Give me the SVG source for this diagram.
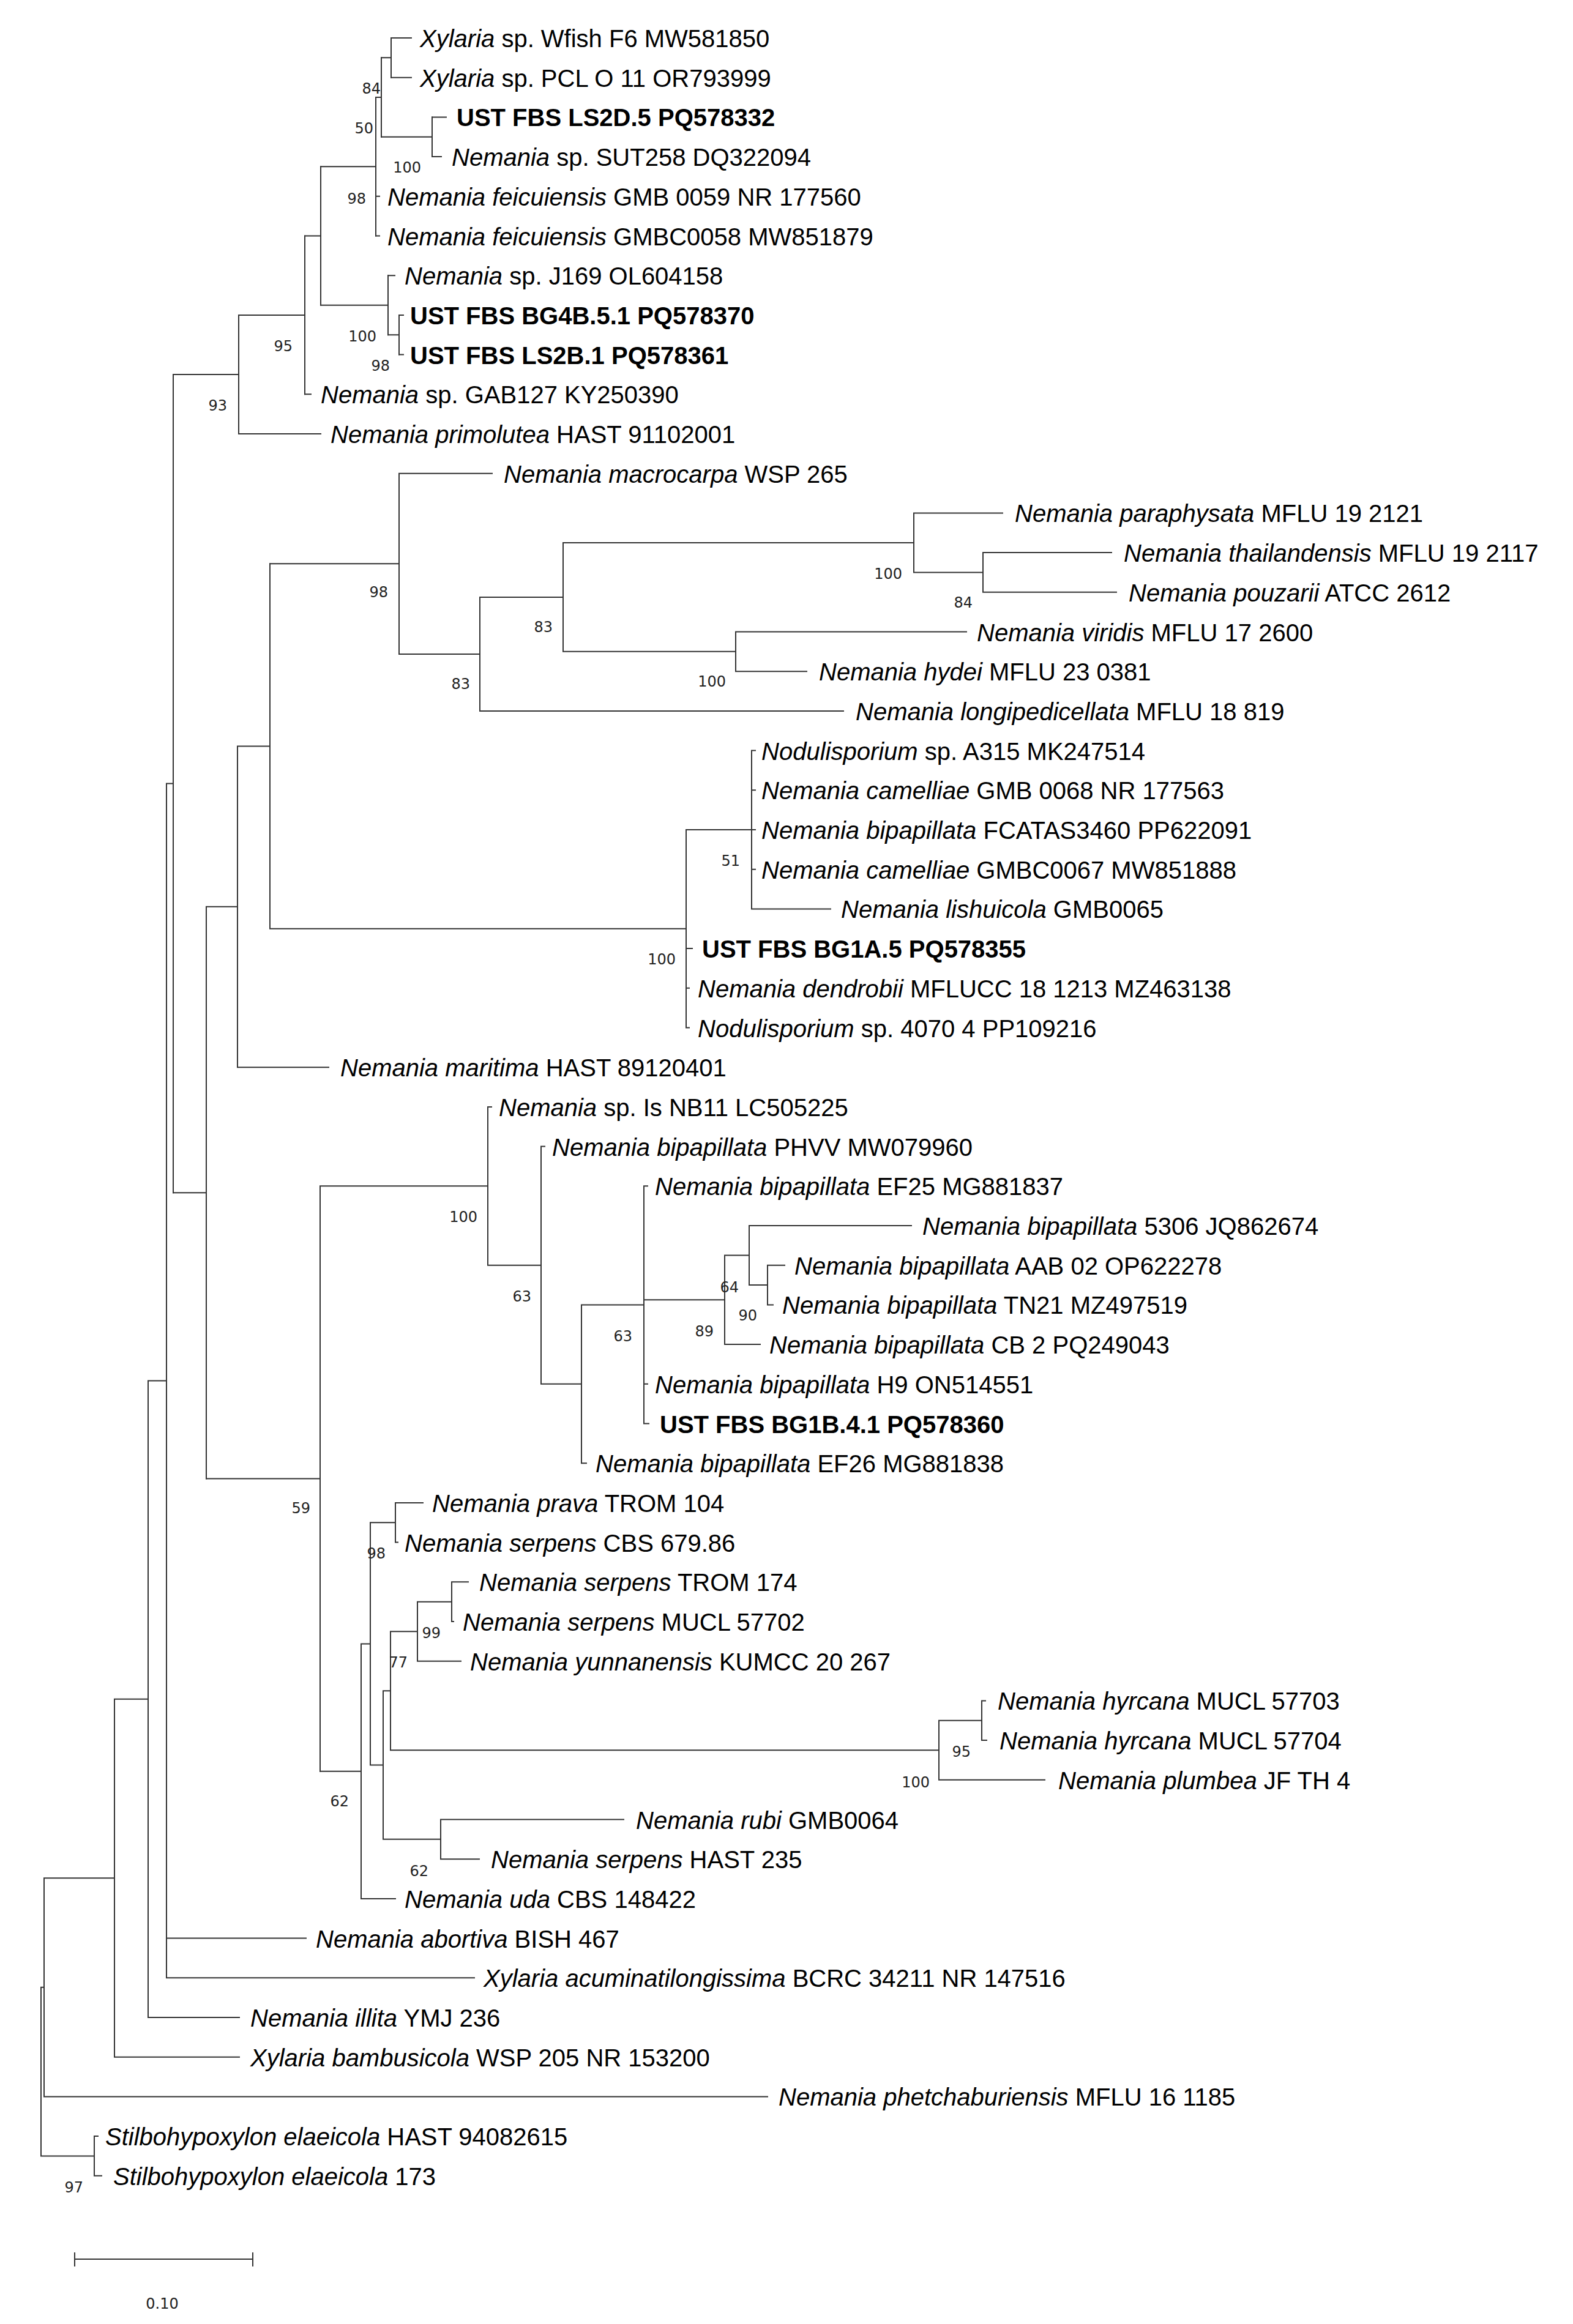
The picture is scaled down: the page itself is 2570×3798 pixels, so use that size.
<svg xmlns="http://www.w3.org/2000/svg" width="2570" height="3798" viewBox="0 0 2570 3798">
<style>
.t{font-family:"Liberation Sans",Arial,sans-serif;font-size:40px;fill:#000}
.i{font-style:italic}
.b{font-weight:bold}
.bs{font-family:"DejaVu Sans",Verdana,sans-serif;font-size:24px;fill:#222;text-anchor:end}
.c{fill:none;stroke:#333;stroke-width:2;stroke-linecap:square}
</style>
<rect width="2570" height="3798" fill="#fff"/>
<g id="connectors" class="c">
<path d="M623,94.35H639M623,223.75H706M614,159.05H623M639,62H672M639,126.7H672M706,191.4H729M706,256.1H721M614,320.8H620M614,385.5H620M524,272.3H614M634,450.2H645M634,547.25H652M652,514.9H659M652,579.6H659M524,498.7H634M498,385.5H524M498,644.3H508M390,514.9H498M390,709H524M283,611.95H390"/>
<path d="M639,62V126.7M706,191.4V256.1M623,94.35V223.75M614,159.05V385.5M652,514.9V579.6M634,450.2V547.25M524,272.3V498.7M498,385.5V644.3M390,514.9V709M283,611.95V1949.2"/>
<path d="M652,773.7H804M441,921.3H652M652,773.7V1068.9M652,1068.9H784M784,975.9V1161.9M784,1161.9H1378M784,975.9H920M920,886.9V1064.85M920,886.9H1493M1493,838.4V935.45M1493,838.4H1638M1493,935.45H1606M1606,903.1V967.8M1606,903.1H1816M1606,967.8H1824M920,1064.85H1202M1202,1032.5V1097.2M1202,1032.5H1579M1202,1097.2H1318"/>
<path d="M388,1219.5H441M441,921.3V1517.75M441,1517.75H1121M1121,1356V1679.5M1121,1356H1228M1228,1226.6V1485.4M1228,1226.6H1234M1228,1291.3H1234M1228,1356H1234M1228,1420.7H1234M1228,1485.4H1357M1121,1550.1H1131M1121,1614.8H1126M1121,1679.5H1126M337,1481.85H388M388,1219.5V1744.2M388,1744.2H537M283,1949.2H337M337,1481.85V2416.5"/>
<path d="M337,2416.5H523M523,1938.3V2894.65M523,1938.3H797M797,1808.9V2067.7M797,1808.9H803M797,2067.7H884M884,1873.6V2261.8M884,1873.6H890M884,2261.8H950M950,2132.4V2391.2M950,2391.2H958M950,2132.4H1052M1052,1938.3V2326.5M1052,1938.3H1058M1052,2261.8H1058M1052,2326.5H1060M1052,2124.3H1184M1184,2051.5V2197.1M1184,2197.1H1242M1184,2051.5H1224M1224,2003V2100.05M1224,2003H1489M1224,2100.05H1254M1254,2067.7V2132.4M1254,2067.7H1282M1254,2132.4H1263"/>
<path d="M523,2894.65H590M590,2686.4V3102.9M590,3102.9H646M590,2686.4H605M605,2488.25V2884.55M605,2488.25H646M646,2455.9V2520.6M646,2455.9H691M646,2520.6H650M605,2884.55H626M626,2763.25V3005.85M626,2763.25H638M638,2666.2V2860.3M638,2666.2H682M682,2617.65V2714.7M682,2714.7H753M682,2617.65H738M738,2585.3V2650M738,2585.3H765M738,2650H741M638,2860.3H1534M1534,2811.75V2908.8M1534,2908.8H1707M1534,2811.75H1604M1604,2779.4V2844.1M1604,2779.4H1610M1604,2844.1H1612M626,3005.85H720M720,2973.5V3038.2M720,2973.5H1019M720,3038.2H783"/>
<path d="M272,1280.6H283M272,1280.6V3232.3M272,3167.6H500M272,3232.3H775M242,2256.45H272M242,2256.45V3297M242,3297H391M187,2776.7H242M187,2776.7V3361.7M187,3361.7H391M72,3069.2H187M72,3069.2V3426.4M72,3426.4H1254M67,3247.8H72M67,3247.8V3523.45M67,3523.45H154M154,3491.1V3555.8M154,3491.1H160M154,3555.8H166"/>
</g>
<g id="scale-bar">
<path class="c" d="M122,3692H413M122,3682V3703M413,3682V3703"/>
<text class="bs" x="265" y="3773" style="text-anchor:middle">0.10</text>
</g>
<g id="bootstrap">
<g id="n-a"><text class="bs" x="622" y="153">84</text></g>
<g id="n-b50"><text class="bs" x="610" y="218">50</text></g>
<g id="n-ls"><text class="bs" x="688" y="282">100</text></g>
<g id="n-b98"><text class="bs" x="598" y="333">98</text></g>
<g id="n-j"><text class="bs" x="615" y="558">100</text></g>
<g id="n-bg"><text class="bs" x="637" y="606">98</text></g>
<g id="n-d"><text class="bs" x="478" y="574">95</text></g>
<g id="n-e"><text class="bs" x="371" y="671">93</text></g>
<g id="n-macro"><text class="bs" x="634" y="976">98</text></g>
<g id="n-100a"><text class="bs" x="1474" y="946">100</text></g>
<g id="n-84"><text class="bs" x="1589" y="993">84</text></g>
<g id="n-83b"><text class="bs" x="903" y="1033">83</text></g>
<g id="n-100b"><text class="bs" x="1186" y="1122">100</text></g>
<g id="n-83a"><text class="bs" x="768" y="1126">83</text></g>
<g id="n-51"><text class="bs" x="1209" y="1415">51</text></g>
<g id="n-nod"><text class="bs" x="1104" y="1576">100</text></g>
<g id="n-100bp"><text class="bs" x="780" y="1997">100</text></g>
<g id="n-63a"><text class="bs" x="868" y="2127">63</text></g>
<g id="n-63b"><text class="bs" x="1033" y="2192">63</text></g>
<g id="n-64"><text class="bs" x="1207" y="2112">64</text></g>
<g id="n-90"><text class="bs" x="1237" y="2158">90</text></g>
<g id="n-89"><text class="bs" x="1166" y="2184">89</text></g>
<g id="n-59"><text class="bs" x="507" y="2473">59</text></g>
<g id="n-prava"><text class="bs" x="630" y="2547">98</text></g>
<g id="n-99"><text class="bs" x="720" y="2677">99</text></g>
<g id="n-77"><text class="bs" x="666" y="2725">77</text></g>
<g id="n-95"><text class="bs" x="1586" y="2871">95</text></g>
<g id="n-100h"><text class="bs" x="1519" y="2921">100</text></g>
<g id="n-62a"><text class="bs" x="570" y="2952">62</text></g>
<g id="n-62b"><text class="bs" x="700" y="3066">62</text></g>
<g id="n-97"><text class="bs" x="136" y="3583">97</text></g>
</g>
<g id="leaves">
<g id="leaf01"><text class="t" x="686" y="77"><tspan class="i">Xylaria</tspan> sp. Wfish F6 MW581850</text></g>
<g id="leaf02"><text class="t" x="686" y="141.7"><tspan class="i">Xylaria</tspan> sp. PCL O 11 OR793999</text></g>
<g id="leaf03"><text class="t b" x="746" y="206.4">UST FBS LS2D.5 PQ578332</text></g>
<g id="leaf04"><text class="t" x="738" y="271.1"><tspan class="i">Nemania</tspan> sp. SUT258 DQ322094</text></g>
<g id="leaf05"><text class="t" x="633" y="335.8"><tspan class="i">Nemania feicuiensis</tspan> GMB 0059 NR 177560</text></g>
<g id="leaf06"><text class="t" x="633" y="400.5"><tspan class="i">Nemania feicuiensis</tspan> GMBC0058 MW851879</text></g>
<g id="leaf07"><text class="t" x="661" y="465.2"><tspan class="i">Nemania</tspan> sp. J169 OL604158</text></g>
<g id="leaf08"><text class="t b" x="670" y="529.9">UST FBS BG4B.5.1 PQ578370</text></g>
<g id="leaf09"><text class="t b" x="670" y="594.6">UST FBS LS2B.1 PQ578361</text></g>
<g id="leaf10"><text class="t" x="524" y="659.3"><tspan class="i">Nemania</tspan> sp. GAB127 KY250390</text></g>
<g id="leaf11"><text class="t" x="540" y="724"><tspan class="i">Nemania primolutea</tspan> HAST 91102001</text></g>
<g id="leaf12"><text class="t" x="823" y="788.7"><tspan class="i">Nemania macrocarpa</tspan> WSP 265</text></g>
<g id="leaf13"><text class="t" x="1658" y="853.4"><tspan class="i">Nemania paraphysata</tspan> MFLU 19 2121</text></g>
<g id="leaf14"><text class="t" x="1836" y="918.1"><tspan class="i">Nemania thailandensis</tspan> MFLU 19 2117</text></g>
<g id="leaf15"><text class="t" x="1844" y="982.8"><tspan class="i">Nemania pouzarii</tspan> ATCC 2612</text></g>
<g id="leaf16"><text class="t" x="1596" y="1047.5"><tspan class="i">Nemania viridis</tspan> MFLU 17 2600</text></g>
<g id="leaf17"><text class="t" x="1338" y="1112.2"><tspan class="i">Nemania hydei</tspan> MFLU 23 0381</text></g>
<g id="leaf18"><text class="t" x="1398" y="1176.9"><tspan class="i">Nemania longipedicellata</tspan> MFLU 18 819</text></g>
<g id="leaf19"><text class="t" x="1244" y="1241.6"><tspan class="i">Nodulisporium</tspan> sp. A315 MK247514</text></g>
<g id="leaf20"><text class="t" x="1244" y="1306.3"><tspan class="i">Nemania camelliae</tspan> GMB 0068 NR 177563</text></g>
<g id="leaf21"><text class="t" x="1244" y="1371"><tspan class="i">Nemania bipapillata</tspan> FCATAS3460 PP622091</text></g>
<g id="leaf22"><text class="t" x="1244" y="1435.7"><tspan class="i">Nemania camelliae</tspan> GMBC0067 MW851888</text></g>
<g id="leaf23"><text class="t" x="1374" y="1500.4"><tspan class="i">Nemania lishuicola</tspan> GMB0065</text></g>
<g id="leaf24"><text class="t b" x="1147" y="1565.1">UST FBS BG1A.5 PQ578355</text></g>
<g id="leaf25"><text class="t" x="1140" y="1629.8"><tspan class="i">Nemania dendrobii</tspan> MFLUCC 18 1213 MZ463138</text></g>
<g id="leaf26"><text class="t" x="1140" y="1694.5"><tspan class="i">Nodulisporium</tspan> sp. 4070 4 PP109216</text></g>
<g id="leaf27"><text class="t" x="556" y="1759.2"><tspan class="i">Nemania maritima</tspan> HAST 89120401</text></g>
<g id="leaf28"><text class="t" x="815" y="1823.9"><tspan class="i">Nemania</tspan> sp. Is NB11 LC505225</text></g>
<g id="leaf29"><text class="t" x="902" y="1888.6"><tspan class="i">Nemania bipapillata</tspan> PHVV MW079960</text></g>
<g id="leaf30"><text class="t" x="1070" y="1953.3"><tspan class="i">Nemania bipapillata</tspan> EF25 MG881837</text></g>
<g id="leaf31"><text class="t" x="1507" y="2018"><tspan class="i">Nemania bipapillata</tspan> 5306 JQ862674</text></g>
<g id="leaf32"><text class="t" x="1298" y="2082.7"><tspan class="i">Nemania bipapillata</tspan> AAB 02 OP622278</text></g>
<g id="leaf33"><text class="t" x="1278" y="2147.4"><tspan class="i">Nemania bipapillata</tspan> TN21 MZ497519</text></g>
<g id="leaf34"><text class="t" x="1257" y="2212.1"><tspan class="i">Nemania bipapillata</tspan> CB 2 PQ249043</text></g>
<g id="leaf35"><text class="t" x="1070" y="2276.8"><tspan class="i">Nemania bipapillata</tspan> H9 ON514551</text></g>
<g id="leaf36"><text class="t b" x="1078" y="2341.5">UST FBS BG1B.4.1 PQ578360</text></g>
<g id="leaf37"><text class="t" x="973" y="2406.2"><tspan class="i">Nemania bipapillata</tspan> EF26 MG881838</text></g>
<g id="leaf38"><text class="t" x="706" y="2470.9"><tspan class="i">Nemania prava</tspan> TROM 104</text></g>
<g id="leaf39"><text class="t" x="661" y="2535.6"><tspan class="i">Nemania serpens</tspan> CBS 679.86</text></g>
<g id="leaf40"><text class="t" x="783" y="2600.3"><tspan class="i">Nemania serpens</tspan> TROM 174</text></g>
<g id="leaf41"><text class="t" x="756" y="2665"><tspan class="i">Nemania serpens</tspan> MUCL 57702</text></g>
<g id="leaf42"><text class="t" x="768" y="2729.7"><tspan class="i">Nemania yunnanensis</tspan> KUMCC 20 267</text></g>
<g id="leaf43"><text class="t" x="1630" y="2794.4"><tspan class="i">Nemania hyrcana</tspan> MUCL 57703</text></g>
<g id="leaf44"><text class="t" x="1633" y="2859.1"><tspan class="i">Nemania hyrcana</tspan> MUCL 57704</text></g>
<g id="leaf45"><text class="t" x="1729" y="2923.8"><tspan class="i">Nemania plumbea</tspan> JF TH 4</text></g>
<g id="leaf46"><text class="t" x="1039" y="2988.5"><tspan class="i">Nemania rubi</tspan> GMB0064</text></g>
<g id="leaf47"><text class="t" x="802" y="3053.2"><tspan class="i">Nemania serpens</tspan> HAST 235</text></g>
<g id="leaf48"><text class="t" x="661" y="3117.9"><tspan class="i">Nemania uda</tspan> CBS 148422</text></g>
<g id="leaf49"><text class="t" x="516" y="3182.6"><tspan class="i">Nemania abortiva</tspan> BISH 467</text></g>
<g id="leaf50"><text class="t" x="790" y="3247.3"><tspan class="i">Xylaria acuminatilongissima</tspan> BCRC 34211 NR 147516</text></g>
<g id="leaf51"><text class="t" x="409" y="3312"><tspan class="i">Nemania illita</tspan> YMJ 236</text></g>
<g id="leaf52"><text class="t" x="409" y="3376.7"><tspan class="i">Xylaria bambusicola</tspan> WSP 205 NR 153200</text></g>
<g id="leaf53"><text class="t" x="1272" y="3441.4"><tspan class="i">Nemania phetchaburiensis</tspan> MFLU 16 1185</text></g>
<g id="leaf54"><text class="t" x="172" y="3506.1"><tspan class="i">Stilbohypoxylon elaeicola</tspan> HAST 94082615</text></g>
<g id="leaf55"><text class="t" x="185" y="3570.8"><tspan class="i">Stilbohypoxylon elaeicola</tspan> 173</text></g>
</g>
</svg>
